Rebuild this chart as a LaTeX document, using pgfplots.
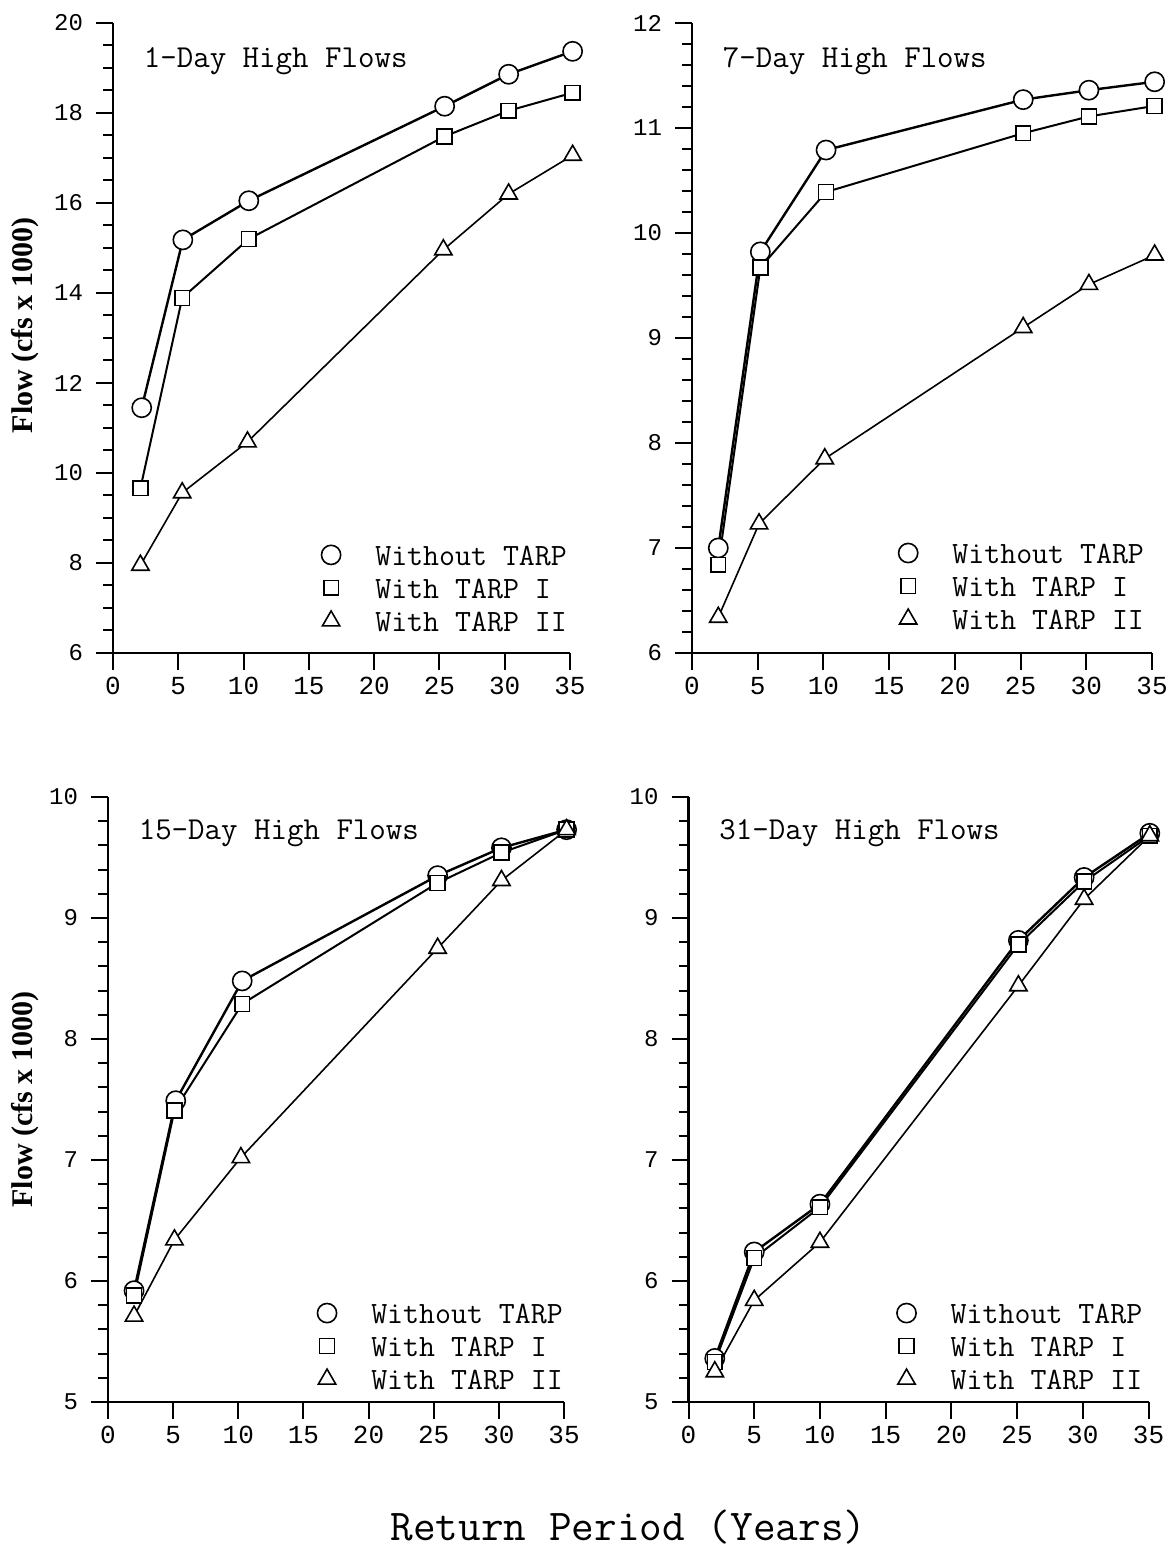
\documentclass[border=0pt]{standalone}
\usepackage{fontspec}
\setmainfont{Liberation Mono}
\newfontfamily\labfont{Liberation Serif}
\usepackage{pgfplots}
\pgfplotsset{compat=1.18}

\pgfplotsset{
  tarp/.style={
    scale only axis, clip=false, anchor=south west,
    axis lines=left, axis line style={-, line width=1.1pt},
    xmin=0, xmax=35, xtick={0,5,...,35},
    tick align=outside, major tick length=8.5pt, minor tick length=5pt,
    every tick/.style={black, line width=1pt},
    /pgf/number format/assume math mode=true,
    yticklabel style={font=\fontsize{12}{12}\selectfont, xshift=-3pt},
    xticklabel style={font=\fontsize{13}{13}\selectfont},
    ylabel={Flow (cfs x 1000)},
    ylabel style={font=\labfont\bfseries\fontsize{15}{15}\selectfont, anchor=center},
    legend cell align=left,
    legend image code/.code={\path (-10pt,0pt) (10pt,0pt); \draw[##1] plot coordinates {(0pt,0pt)};},
    legend style={draw=none, fill=none, inner sep=0pt, anchor=north west,
      font=\ttfamily\fontsize{15.5}{15.5}\selectfont, row sep=6pt, column sep=11.5pt,
      nodes={inner sep=0pt, text height=10.5pt, text depth=0pt}},
  },
  circ/.style={black, line width=1.2pt, mark=*, mark size=4.8pt, mark options={line width=0.8pt, fill=white}},
  sq/.style={black, line width=1pt, mark=square*, mark size=3.7pt, mark options={line width=0.8pt, fill=white}},
  tri/.style={black, line width=0.8pt, mark=triangle*, mark size=5pt, mark options={line width=0.8pt, fill=white}},
}
\newcommand\ttl[1]{\node[anchor=west, font=\ttfamily\fontsize{16}{16}\selectfont] at (rel axis cs:0.052,0.94) {#1};}

\begin{document}
\begin{tikzpicture}
\useasboundingbox (0,0) rectangle (586pt,775.5pt);

% 1-day
\begin{axis}[tarp, at={(56.5pt,449pt)}, width=228.5pt, height=315pt,
  ymin=6, ymax=20, ytick={6,8,...,20}, minor y tick num=3,
  ylabel style={at={(axis description cs:-0.193,0.52)}},
  legend style={at={(rel axis cs:0.430,0.173)}}]
\addplot[circ] coordinates {(2.2,11.45)(5.35,15.18)(10.4,16.05)(25.4,18.15)(30.3,18.86)(35.2,19.37)};
\addlegendentry{Without TARP}
\addplot[sq] coordinates {(2.1,9.66)(5.3,13.89)(10.4,15.2)(25.4,17.48)(30.3,18.05)(35.2,18.45)};
\addlegendentry{With TARP I}
\addplot[tri] coordinates {(2.1,7.95)(5.3,9.56)(10.3,10.69)(25.3,14.96)(30.3,16.2)(35.2,17.06)};
\addlegendentry{With TARP II}
\ttl{1-Day High Flows}
\end{axis}

% 7-day
\begin{axis}[tarp, at={(346pt,449pt)}, width=230pt, height=315pt,
  ymin=6, ymax=12, ytick={6,...,12}, minor y tick num=4, ylabel={},
  legend style={at={(rel axis cs:0.423,0.176)}}]
\addplot[circ] coordinates {(2.0,7.0)(5.2,9.82)(10.2,10.79)(25.2,11.27)(30.2,11.36)(35.2,11.44)};
\addlegendentry{Without TARP}
\addplot[sq] coordinates {(2.0,6.84)(5.2,9.67)(10.2,10.39)(25.2,10.95)(30.2,11.11)(35.2,11.21)};
\addlegendentry{With TARP I}
\addplot[tri] coordinates {(2.0,6.34)(5.1,7.23)(10.1,7.85)(25.2,9.10)(30.2,9.51)(35.2,9.79)};
\addlegendentry{With TARP II}
\ttl{7-Day High Flows}
\end{axis}

% 15-day
\begin{axis}[tarp, at={(54pt,74.5pt)}, width=228pt, height=302.5pt,
  ymin=5, ymax=10, ytick={5,...,10}, minor y tick num=4,
  ylabel style={at={(axis description cs:-0.182,0.5)}},
  legend style={at={(rel axis cs:0.433,0.165)}}]
\addplot[circ] coordinates {(2.0,5.92)(5.2,7.49)(10.3,8.48)(25.3,9.35)(30.2,9.58)(35.2,9.73)};
\addlegendentry{Without TARP}
\addplot[sq] coordinates {(2.0,5.88)(5.1,7.41)(10.3,8.29)(25.3,9.29)(30.2,9.54)(35.2,9.73)};
\addlegendentry{With TARP I}
\addplot[tri] coordinates {(2.0,5.71)(5.1,6.34)(10.2,7.02)(25.3,8.75)(30.2,9.31)(35.2,9.73)};
\addlegendentry{With TARP II}
\ttl{15-Day High Flows}
\end{axis}

% 31-day
\begin{axis}[tarp, at={(344.25pt,74.5pt)}, width=230pt, height=302.5pt,
  ymin=5, ymax=10, ytick={5,...,10}, minor y tick num=4, ylabel={},
  legend style={at={(rel axis cs:0.427,0.165)}}]
\addplot[circ] coordinates {(2.0,5.36)(5.0,6.24)(10.0,6.635)(25.1,8.815)(30.1,9.335)(35.1,9.70)};
\addlegendentry{Without TARP}
\addplot[sq] coordinates {(2.0,5.33)(5.0,6.19)(10.0,6.61)(25.1,8.78)(30.1,9.30)(35.1,9.68)};
\addlegendentry{With TARP I}
\addplot[tri] coordinates {(2.0,5.25)(5.0,5.84)(10.0,6.32)(25.1,8.44)(30.1,9.155)(35.1,9.68)};
\addlegendentry{With TARP II}
\ttl{31-Day High Flows}
\end{axis}

\node[font=\ttfamily\fontsize{22}{22}\selectfont] at (314.25pt,12pt) {Return Period (Years)};
\end{tikzpicture}
\end{document}
